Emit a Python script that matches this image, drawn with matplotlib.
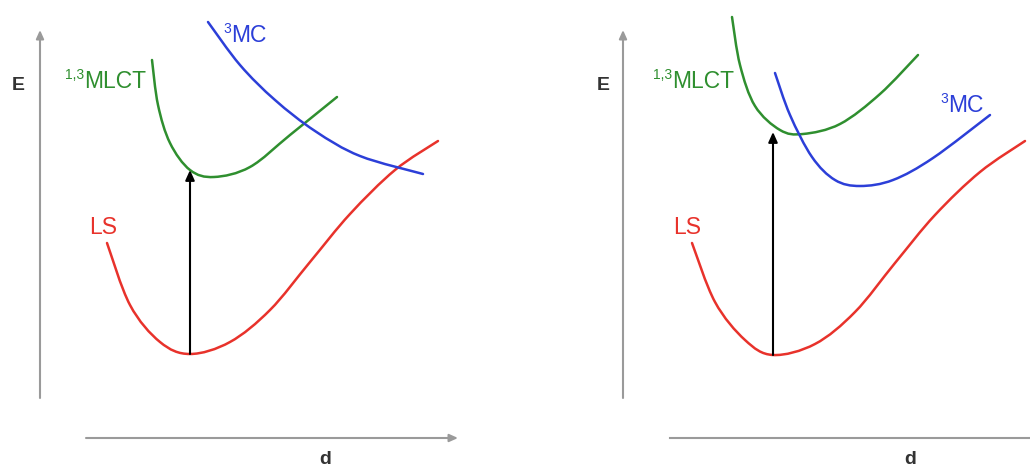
# Energy diagrams: LS / 1,3MLCT / 3MC potential curves, two cases side by side
import matplotlib
matplotlib.use("Agg")
import matplotlib.pyplot as plt
from matplotlib.path import Path
from matplotlib.patches import PathPatch

# curves, in pixel coordinates (x right, y down)
# left panel
ls_left_x = [107, 130, 160, 190, 230, 270, 310, 350, 395, 438]
ls_left_y = [243, 305, 342, 354, 342, 310, 262, 214, 170, 141]
mlct_left_x = [152, 158, 170, 190, 214, 250, 290, 337]
mlct_left_y = [60, 105, 143, 170, 177, 167, 135, 97]
mc_left_x = [208, 240, 275, 315, 360, 423]
mc_left_y = [22, 65, 100, 131, 156, 174]

# right panel
ls_right_x = [692, 715, 745, 773, 815, 855, 895, 935, 980, 1025]
ls_right_y = [243, 302, 340, 355, 344, 312, 263, 215, 172, 141]
mlct_right_x = [732, 740, 755, 780, 803, 840, 880, 918]
mlct_right_y = [17, 65, 106, 130, 134, 124, 94, 55]
mc_right_x = [775, 790, 812, 835, 860, 893, 933, 990]
mc_right_y = [73, 115, 157, 180, 186, 180, 158, 115]

RED = "#e8322b"
GREEN = "#2f8f2f"
BLUE = "#2c3fd8"
GRAY = "#9a9a9a"
FONT = "Liberation Sans"

fig = plt.figure(figsize=(10.3, 4.68), dpi=100)
ax = fig.add_axes([0, 0, 1, 1])
ax.set_xlim(0, 1030)
ax.set_ylim(468, 0)
ax.axis("off")


def curve(xs, ys, color):
    # pass a smooth bezier path through the read points
    pts = list(zip(xs, ys))
    verts = [pts[0]]
    codes = [Path.MOVETO]
    for i in range(len(pts) - 1):
        p0 = pts[max(i - 1, 0)]
        p1 = pts[i]
        p2 = pts[i + 1]
        p3 = pts[min(i + 2, len(pts) - 1)]
        c1 = (p1[0] + (p2[0] - p0[0]) / 6, p1[1] + (p2[1] - p0[1]) / 6)
        c2 = (p2[0] - (p3[0] - p1[0]) / 6, p2[1] - (p3[1] - p1[1]) / 6)
        verts += [c1, c2, p2]
        codes += [Path.CURVE4] * 3
    ax.add_patch(PathPatch(Path(verts, codes), fill=False, edgecolor=color, lw=1.8,
                           capstyle="round"))


def arrow(x0, y0, x1, y1, color, lw, head):
    ax.annotate("", xy=(x1, y1), xytext=(x0, y0),
                arrowprops=dict(arrowstyle=f"-|>,head_length={head},head_width={head * 0.45}",
                                color=color, lw=lw, shrinkA=0, shrinkB=0))


def label(x, y, sup, main, color):
    ax.text(x, y, main, color=color, fontsize=16.5, family=FONT, ha="left", va="center")
    if sup:
        ax.text(x, y - 6, sup, color=color, fontsize=10, family=FONT, ha="right", va="center")


# left panel
arrow(40, 398, 40, 30, GRAY, 1.5, 0.5)
arrow(86, 438, 458, 438, GRAY, 1.5, 0.5)
ax.text(18, 85, "E", fontsize=14, family=FONT, weight="bold", color="#333333", ha="center", va="center")
ax.text(325, 460, "d", fontsize=14, family=FONT, weight="bold", color="#333333", ha="center", va="center")
curve(ls_left_x, ls_left_y, RED)
curve(mlct_left_x, mlct_left_y, GREEN)
curve(mc_left_x, mc_left_y, BLUE)
arrow(190, 354, 190, 170, "black", 1.5, 0.6)
label(84, 81, "1,3", "MLCT", GREEN)
label(231, 35, "3", "MC", BLUE)
label(89, 228, None, "LS", RED)

# right panel
arrow(623, 398, 623, 30, GRAY, 1.5, 0.5)
ax.plot([670, 1030], [438, 438], color=GRAY, lw=1.5)
ax.text(603, 85, "E", fontsize=14, family=FONT, weight="bold", color="#333333", ha="center", va="center")
ax.text(910, 460, "d", fontsize=14, family=FONT, weight="bold", color="#333333", ha="center", va="center")
curve(ls_right_x, ls_right_y, RED)
curve(mlct_right_x, mlct_right_y, GREEN)
curve(mc_right_x, mc_right_y, BLUE)
arrow(773, 355, 773, 132, "black", 1.5, 0.6)
label(672, 81, "1,3", "MLCT", GREEN)
label(948, 105, "3", "MC", BLUE)
label(673, 228, None, "LS", RED)

fig.savefig("out.png", dpi=100)
